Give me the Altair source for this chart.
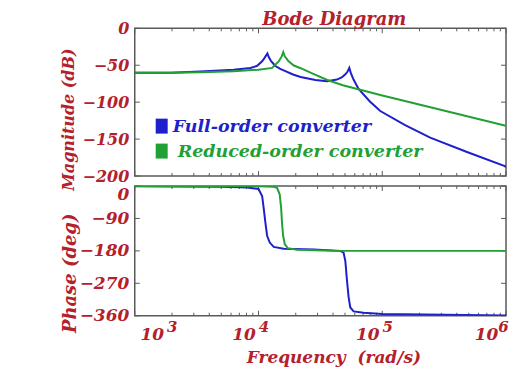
import altair as alt
import pandas as pd

FULL = "Full-order converter"
REDU = "Reduced-order converter"
series_names = [FULL, REDU]
series_colors = ["#1f1fcc", "#22a035"]

# Magnitude (dB)
full_mag_freq = [1000, 1950, 3400, 6300, 8600, 9700, 10700, 11200, 11800, 12100, 12600, 13200,
                 13700, 15000, 16500, 19000, 21900, 28800, 35800, 43000, 47000, 50100, 52500,
                 54200, 55600, 58600, 64400, 79400, 96400, 153000, 244000, 484000, 977000, 1000000]
full_mag_db = [-60, -60, -58.5, -56, -53.6, -51, -44.6, -40, -34, -39, -44, -48,
               -51, -55, -58, -62.5, -66, -70, -71.6, -69.4, -66.5, -62.6, -58.5,
               -53.6, -60, -69.4, -82, -99, -112, -131, -148, -167.5, -186.5, -188]

red_mag_freq = [1000, 2000, 3400, 6300, 10000, 12900, 14600, 15400, 15850, 16300, 17500, 19300,
                21900, 28000, 36000, 48000, 64000, 96400, 245000, 977000, 1000000]
red_mag_db = [-60, -60, -59.5, -58, -56, -53.6, -44.6, -38, -32.4, -38, -44.6, -50.4,
              -54, -62, -70, -77, -82.5, -90.4, -106.9, -131.6, -132]

# Phase (deg)
full_ph_freq = [1000, 5000, 8150, 10000, 10700, 11000, 11400, 11740, 12330, 13280, 16000, 27900,
                45800, 48700, 50300, 51900, 53500, 55200, 58700, 70600, 100000, 1000000]
full_ph_deg = [-0.5, -2, -4, -8.3, -27.7, -60, -105, -138, -157, -169, -174, -176,
               -180, -185, -208, -263, -309, -337, -348, -352, -355, -359]

red_ph_freq = [1000, 10000, 13280, 14130, 14830, 15230, 15520, 15810, 16300, 17220, 20500, 40000, 1000000]
red_ph_deg = [0, -1, -2, -5, -23, -60, -106, -138, -161, -172.5, -177, -179.5, -180]

x_major = [1000, 10000, 100000, 1000000]
x_minor = [2000, 3000, 4000, 5000, 6000, 7000, 8000, 9000,
           20000, 30000, 40000, 50000, 60000, 70000, 80000, 90000,
           200000, 300000, 400000, 500000, 600000, 700000, 800000, 900000]
mag_ticks = [0, -50, -100, -150, -200]
phase_ticks = [0, -90, -180, -270, -360]

mag_df = pd.concat([
    pd.DataFrame({"freq": full_mag_freq, "val": full_mag_db, "series": FULL}),
    pd.DataFrame({"freq": red_mag_freq, "val": red_mag_db, "series": REDU}),
])
ph_df = pd.concat([
    pd.DataFrame({"freq": full_ph_freq, "val": full_ph_deg, "series": FULL}),
    pd.DataFrame({"freq": red_ph_freq, "val": red_ph_deg, "series": REDU}),
])
legend_df = pd.DataFrame({"series": series_names})

W, H1, H2 = 372, 148, 130
FONT = "DejaVu Serif"
TXT = "#b4202c"
GREY = "#5a5a5a"

xscale = alt.Scale(type="log", domain=[1000, 1000000])
cscale = alt.Scale(domain=series_names, range=series_colors)


def tick_layers(H, yscale, yvals):
    out = []
    for vals, ln in ((x_major, 5), (x_minor, 3)):
        b = alt.Chart(pd.DataFrame({"t": vals})).mark_rule(color=GREY, strokeWidth=1)
        xx = alt.X("t:Q", scale=xscale, axis=None)
        out.append(b.encode(x=xx, y=alt.value(H), y2=alt.value(H - ln)))
        out.append(b.encode(x=xx, y=alt.value(0), y2=alt.value(ln)))
    b = alt.Chart(pd.DataFrame({"t": yvals})).mark_rule(color=GREY, strokeWidth=1)
    yy = alt.Y("t:Q", scale=yscale, axis=None)
    out.append(b.encode(y=yy, x=alt.value(0), x2=alt.value(5)))
    out.append(b.encode(y=yy, x=alt.value(W), x2=alt.value(W - 5)))
    return out


def panel(df, H, ydomain, yvals, ytitle, ytitle_x, ytitle_y, ysize, ttl_size, bottom, legend):
    yscale = alt.Scale(domain=ydomain, nice=False, zero=False)
    base = alt.Chart(df)
    if bottom:
        xaxis = alt.Axis(orient="bottom", values=x_major, labelExpr="'10'", ticks=False, tickSize=0,
                         domain=False, grid=False, labelFont=FONT, labelFontSize=17,
                         labelFontStyle="italic", labelFontWeight="bold", labelColor=TXT,
                         labelPadding=11, labelFlush=False,
                         labelOffset={"condition": [{"test": "datum.value == 1000", "value": 17},
                                                    {"test": "datum.value == 1000000", "value": -20}],
                                      "value": -15},
                         title="Frequency\u00a0 (rad/s)", titleFont=FONT, titleFontSize=17,
                         titleFontStyle="italic", titleFontWeight="bold", titleColor=TXT,
                         titleX=199, titleY=42, titleBaseline="middle", titleAlign="center")
    else:
        xaxis = alt.Axis(orient="bottom", labels=False, ticks=False, domain=False, grid=False, title=None)
    yaxis = alt.Axis(orient="left", values=yvals, ticks=False, tickSize=0, domain=False, grid=False,
                     labelFont=FONT, labelFontSize=ysize, labelFontStyle="italic",
                     labelFontWeight="bold", labelColor=TXT, labelPadding=6, labelFlush=False,
                     labelOffset={"condition": {"test": "datum.value == 0", "value": 9 if bottom else 0}, "value": 0},
                     title=ytitle, titleFont=FONT, titleFontSize=ttl_size, titleFontStyle="italic",
                     titleFontWeight="bold", titleColor=TXT, titleAngle=270, titleX=ytitle_x,
                     titleY=ytitle_y, titleBaseline="middle", titleAlign="center")
    lines = base.mark_line(strokeWidth=2, clip=True).encode(
        x=alt.X("freq:Q", scale=xscale, axis=xaxis),
        y=alt.Y("val:Q", scale=yscale, axis=yaxis),
        color=alt.Color("series:N", scale=cscale, sort=series_names, legend=None),
    )
    layers = tick_layers(H, yscale, yvals) + [lines]
    if legend:
        lb = alt.Chart(legend_df)
        for i, name in enumerate(series_names):
            sq = lb.mark_point(shape="M-0.8,-1H0.8V1H-0.8Z", size=225, filled=True, opacity=1).encode(
                x=alt.value(27), y=alt.value(98 + 25 * i),
                color=alt.Color("series:N", scale=cscale, legend=None),
            ).transform_filter(alt.datum.series == name)
            tx = lb.mark_text(align="left", baseline="middle", font=FONT, fontSize=17.5,
                              fontStyle="italic", fontWeight="bold").encode(
                x=alt.value(38 + 5 * i), y=alt.value(99 + 25 * i), text="series:N",
                color=alt.Color("series:N", scale=cscale, legend=None),
            ).transform_filter(alt.datum.series == name)
            layers += [sq, tx]
    if bottom:
        expo_axis = alt.Axis(orient="bottom", values=x_major,
                             labelExpr="format(round(log(datum.value)/LN10), 'd')",
                             ticks=False, tickSize=0, domain=False, grid=False, labelFont=FONT,
                             labelFontSize=15, labelFontStyle="italic", labelFontWeight="bold",
                             labelColor=TXT, labelPadding=4, labelFlush=False,
                             labelOffset={"condition": [{"test": "datum.value == 1000", "value": 37},
                                                        {"test": "datum.value == 1000000", "value": -3}],
                                          "value": 5},
                             title=None)
        t3 = base.mark_line(strokeOpacity=0).encode(
            x=alt.X("freq:Q", scale=xscale, axis=expo_axis),
            y=alt.Y("val:Q", scale=yscale, axis=None),
        )
        layers.append(t3)
    ch = alt.layer(*layers).resolve_axis(x="independent", y="independent").properties(width=W, height=H)
    return ch


top = panel(mag_df, H1, [-200, 0], mag_ticks, "Magnitude (dB)", -66, 91, 16, 16, False, True).properties(
    title=alt.TitleParams("Bode Diagram", font=FONT, fontSize=18, fontStyle="italic", fontWeight="bold",
                          color=TXT, anchor="middle", dx=14, offset=-9))
bot = panel(ph_df, H2, [-360, 0], phase_ticks, "Phase (deg)", -64, 87, 17, 18, True, False)

chart = alt.vconcat(top, bot, spacing=10, bounds="flush").properties(
    padding={"left": 52, "top": 2, "right": 0, "bottom": 0}, background="white"
).configure_view(stroke=GREY, strokeWidth=1.5)

chart.save("out.html", embed_options={"renderer": "svg", "actions": False})
